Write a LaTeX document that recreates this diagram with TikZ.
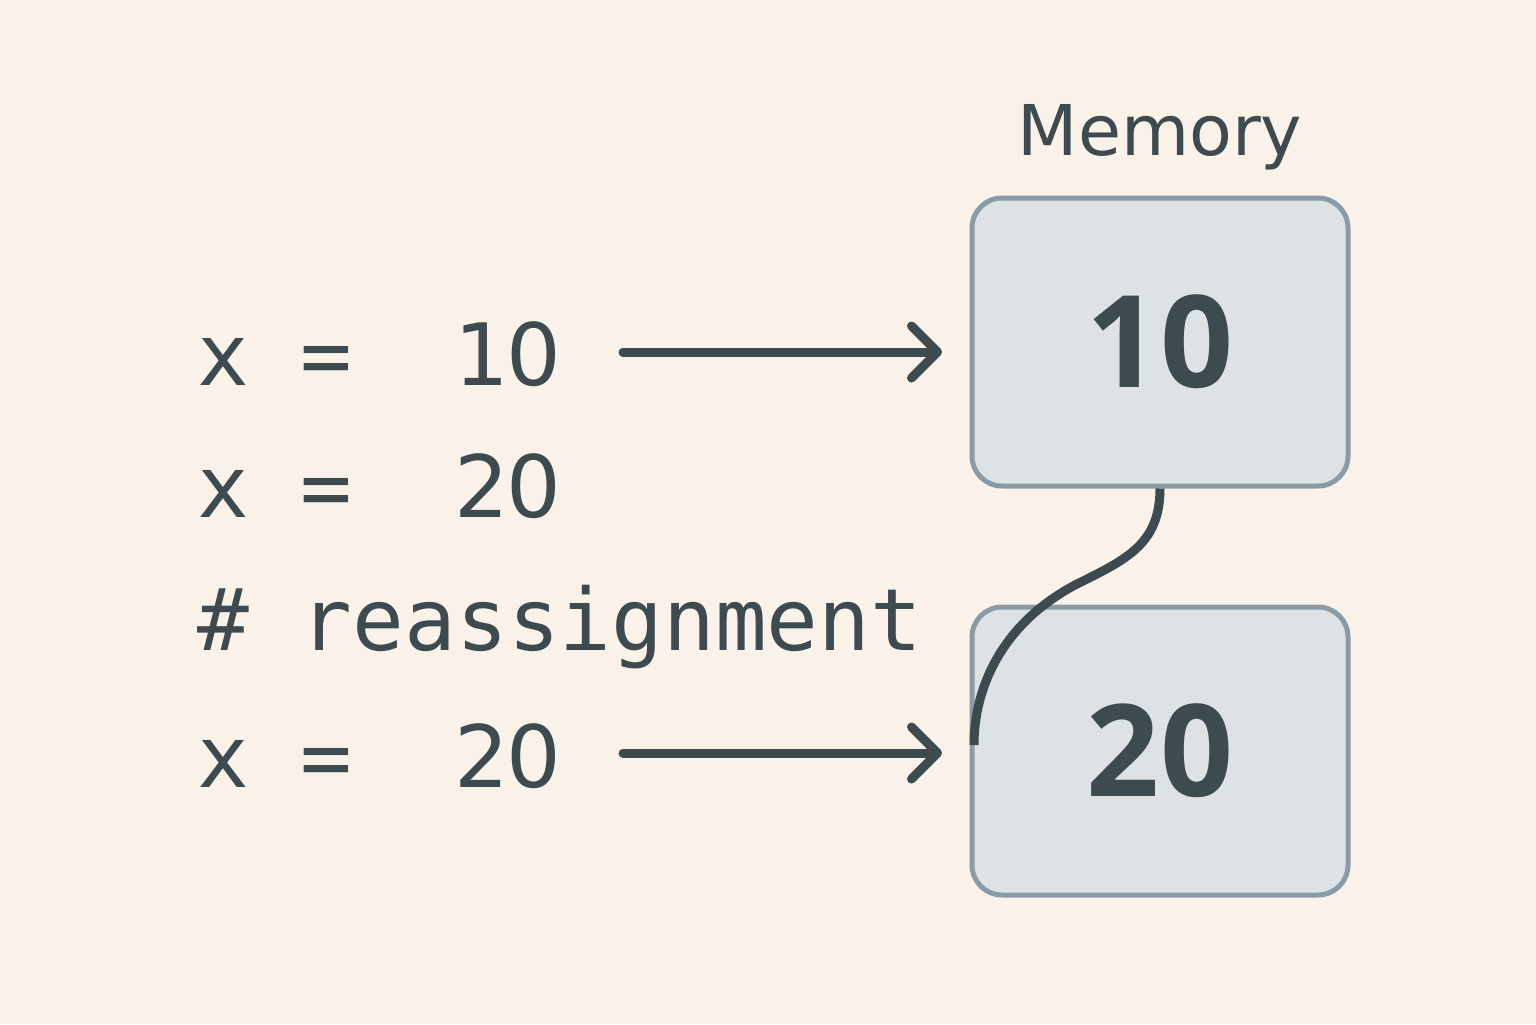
\documentclass[tikz,border=0pt]{standalone}
\usepackage{fontspec}
\setmainfont{DejaVu Sans}
\newfontfamily\codefont{DejaVu Sans Mono}
\newfontfamily\digfont{DejaVu Sans}
\newfontfamily\numfont{Open Sans}
\usetikzlibrary{arrows.meta}
\definecolor{bg}{HTML}{FAF2E9}
\definecolor{ink}{HTML}{3D4A4F}
\definecolor{boxfill}{HTML}{DDE3E5}
\definecolor{boxline}{HTML}{8A9BA8}
\newcommand{\dg}[1]{\makebox[25.8pt][c]{\digfont #1}}
\begin{document}
\begin{tikzpicture}[x=0.5pt,y=-0.5pt,
  code/.style={anchor=base west,inner sep=0pt,text=ink,font=\codefont\fontsize{43}{50}\selectfont},
  membox/.style={draw=boxline,line width=2.5pt,fill=boxfill,rounded corners=15pt,minimum width=188pt,minimum height=144pt,inner sep=0pt,font=\numfont\bfseries\fontsize{64}{70}\selectfont,text=ink},
  arr/.style={draw=ink,line width=4.5pt,line cap=round,-{Straight Barb[length=13pt,width=26pt,line width=4.5pt,round]}}]
\fill[bg] (0,0) rectangle (1536,1024);
\useasboundingbox (0,0) rectangle (1536,1024);
\node[inner sep=0pt,anchor=base,text=ink,font=\fontsize{35}{40}\selectfont] (mem) at (1160,155) {Memory};
\node[membox] (b1) at (1160,342) {10};
\node[membox] (b2) at (1160,751) {20};
\node[code] (c1) at (197,385) {x =\ \ \dg{1}\dg{0}};
\node[code] (c2) at (197,517) {x =\ \ \dg{2}\dg{0}};
\node[code] (c3) at (197,650) {\# reassignment};
\node[code] (c4) at (197,787) {x =\ \ \dg{2}\dg{0}};
\coordinate (a1s) at (623,352);
\coordinate (a1e) at (942,352);
\coordinate (a2s) at (623,753);
\coordinate (a2e) at (942,753);
\draw[arr] (a1s) -- (a1e);
\draw[arr] (a2s) -- (a2e);
\draw[ink,line width=4.5pt] (b1.south) .. controls (1160,545) and (1125,560) .. (1075,585) .. controls (1000,625) and (974,690) .. (974,745);
\end{tikzpicture}
\end{document}
